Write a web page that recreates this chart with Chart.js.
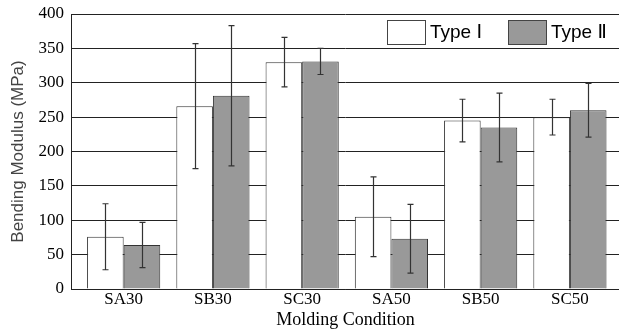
<!DOCTYPE html>
<html>
<head>
<meta charset="utf-8">
<script src="https://cdn.jsdelivr.net/npm/chart.js@4.4.1/dist/chart.umd.min.js"></script>
<style>
  html, body { margin: 0; padding: 0; background: #fff; }
  #wrap { width: 619px; height: 331px; }
</style>
</head>
<body>
<div id="wrap"><canvas id="grafic"></canvas></div>
<script>
const categorii = ['SA30', 'SB30', 'SC30', 'SA50', 'SB50', 'SC50'];
const tipI = [76, 266, 330, 105, 245, 250];
const tipII = [64, 281, 331, 73, 235, 260];
const erorI = [48, 91, 36, 58, 31, 26];
const erorII = [33, 102, 19, 50, 50, 39];
const tickuriY = [0, 50, 100, 150, 200, 250, 300, 350, 400];

const serif = '"Liberation Serif", "Times New Roman", serif';
const sans = '"Liberation Sans", Arial, "DejaVu Sans", sans-serif';

// bare de eroare desenate peste bare
const bareEroare = {
  id: 'bareEroare',
  afterDatasetsDraw(chart) {
    const { ctx, scales: { y } } = chart;
    const erori = [erorI, erorII];
    ctx.save();
    ctx.strokeStyle = '#333';
    ctx.lineWidth = 1.2;
    chart.data.datasets.forEach((ds, d) => {
      chart.getDatasetMeta(d).data.forEach((bar, i) => {
        const v = ds.data[i].y;
        const e = erori[d][i];
        const x = Math.round(bar.x) + 0.5;
        const sus = y.getPixelForValue(v + e);
        const jos = y.getPixelForValue(v - e);
        ctx.beginPath();
        ctx.moveTo(x, sus); ctx.lineTo(x, jos);
        ctx.moveTo(x - 3, sus); ctx.lineTo(x + 3, sus);
        ctx.moveTo(x - 3, jos); ctx.lineTo(x + 3, jos);
        ctx.stroke();
      });
    });
    ctx.restore();
  }
};

// legenda in interiorul zonei graficului, sus dreapta
const legendaInterna = {
  id: 'legendaInterna',
  afterDraw(chart) {
    const { ctx } = chart;
    const pozitii = [387, 508];
    ctx.save();
    ctx.font = '19px ' + sans;
    ctx.textBaseline = 'middle';
    chart.data.datasets.forEach((ds, d) => {
      const x0 = pozitii[d];
      ctx.fillStyle = ds.backgroundColor;
      ctx.fillRect(x0, 20, 38, 24);
      ctx.strokeStyle = '#444';
      ctx.lineWidth = 1;
      ctx.strokeRect(x0 + 0.5, 20.5, 38, 24);
      ctx.fillStyle = '#000';
      ctx.fillText(ds.label, x0 + 43, 33);
    });
    ctx.restore();
  }
};

new Chart(document.getElementById('grafic'), {
  type: 'bar',
  data: {
    datasets: [{
      label: 'Type Ⅰ',
      data: tipI.map((v, i) => ({ x: i, y: v })),
      backgroundColor: '#ffffff',
      borderColor: '#333',
      borderWidth: 1
    }, {
      label: 'Type Ⅱ',
      data: tipII.map((v, i) => ({ x: i, y: v })),
      backgroundColor: '#999999',
      borderColor: '#333',
      borderWidth: 1
    }]
  },
  options: {
    responsive: true,
    maintainAspectRatio: false,
    animation: false,
    categoryPercentage: 0.82,
    barPercentage: 1.0,
    layout: { padding: { top: 0, right: 0, left: 8, bottom: 0 } },
    plugins: { legend: { display: false }, tooltip: { enabled: false } },
    scales: {
      x: {
        type: 'linear',
        offset: false,
        min: -0.58,
        max: 5.55,
        afterBuildTicks(axis) {
          axis.ticks = categorii.map((_, i) => ({ value: i }));
        },
        ticks: {
          autoSkip: false,
          maxRotation: 0,
          color: '#000',
          padding: 0,
          font: { family: serif, size: 17 },
          callback: (v) => categorii[v]
        },
        grid: { display: false, drawTicks: false, tickLength: 0, offset: false },
        border: { display: true, color: '#222', width: 1 },
        title: {
          display: true,
          text: 'Molding Condition',
          color: '#000',
          padding: { top: 0, bottom: 0 },
          font: { family: serif, size: 18 }
        }
      },
      y: {
        min: 0,
        max: 400,
        afterBuildTicks(axis) {
          axis.ticks = tickuriY.map((v) => ({ value: v }));
        },
        afterFit(axis) {
          axis.paddingTop = 14;
        },
        ticks: {
          color: '#000',
          padding: 8,
          font: { family: serif, size: 17 }
        },
        grid: { color: '#222', lineWidth: 1, drawTicks: false },
        border: { display: true, color: '#222', width: 1 },
        title: {
          display: true,
          text: 'Bending Modulus (MPa)',
          color: '#444',
          padding: { top: 0, bottom: 2 },
          font: { family: sans, size: 17 }
        }
      }
    }
  },
  plugins: [bareEroare, legendaInterna]
});
</script>
</body>
</html>
